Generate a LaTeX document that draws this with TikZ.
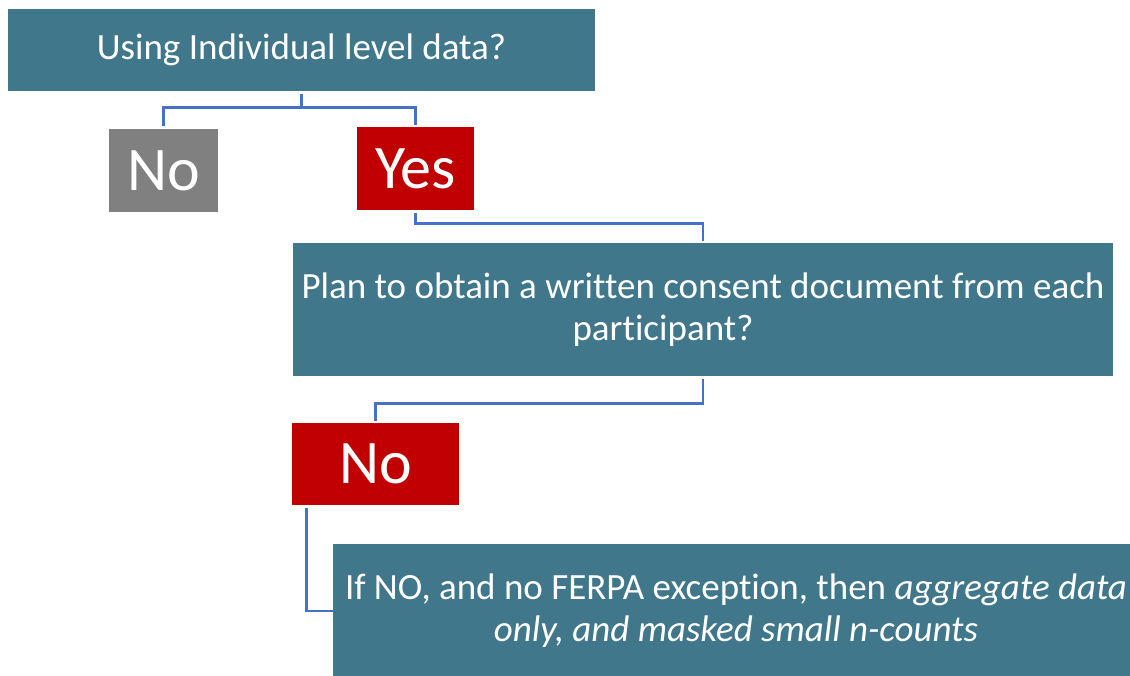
\documentclass[tikz,border=0pt]{standalone}
\usepackage{fontspec}
\setmainfont{Carlito}[Ligatures=NoCommon]
\usepackage{xcolor}
\definecolor{tealbox}{RGB}{65,119,139}
\definecolor{redbox}{RGB}{192,0,0}
\definecolor{graybox}{RGB}{128,128,128}
\definecolor{linkblue}{RGB}{68,114,196}

\begin{document}
\begin{tikzpicture}[x=1pt, y=-1pt, every node/.style={inner sep=0pt, text=white, align=center}, question/.style={fill=tealbox, font=\fontsize{37}{42}\selectfont}, answer/.style={font=\fontsize{62}{70}\selectfont}, link/.style={draw=linkblue, line width=2.8pt, shorten <=3pt, shorten >=2pt}]
  \useasboundingbox (0,0) rectangle (1130,675);
  \clip (0,0) rectangle (1130,675);
  % questions and answers
  \node[question, minimum width=587pt, minimum height=82pt] (individual) at (301.5,50) {Using Individual level data?};
  \node[answer, fill=graybox, minimum width=109pt, minimum height=83pt] (noA) at (163.5,170.5) {No};
  \node[answer, fill=redbox, minimum width=117pt, minimum height=83pt] (yesA) at (415.5,168.5) {Yes};
  \node[question, minimum width=820pt, minimum height=133pt] (written) at (703,309.5) {Plan to obtain a written consent document from each\\participant?\hspace*{80pt}};
  \node[answer, fill=redbox, minimum width=167pt, minimum height=82pt] (noB) at (375.5,464) {No};
  \node[question, minimum width=806pt, minimum height=134pt] (aggregate) at (736,611) {If NO, and no FERPA exception, then \textit{aggregate data}\\\textit{only, and masked small n-counts}};
  % connectors
  \draw[link, shorten >=3pt] (individual.south) -- ++(0,16) coordinate (split) -| (noA.north);
  \draw[link, shorten <=0pt] (split) -| (yesA.north);
  \draw[link] (yesA.south) -- ++(0,13) -| (written.north);
  \draw[link] (written.south) -- ++(0,27) -| (noB.north);
  \draw[link, shorten >=0pt] ([xshift=15pt]noB.south west) |- (aggregate.west);
\end{tikzpicture}
\end{document}
